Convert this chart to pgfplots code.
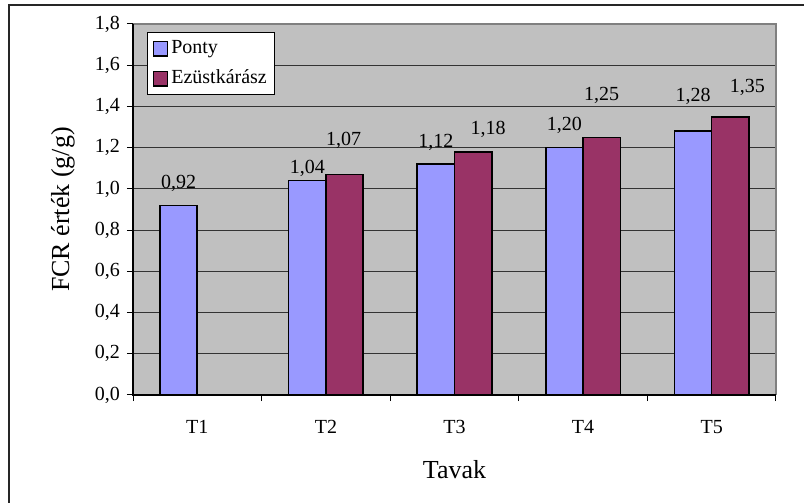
\documentclass[border=0pt]{standalone}
\usepackage{fontspec}
\setmainfont{Liberation Serif}
\usepackage{pgfplots}
\usepackage{pgfplotstable}
\pgfplotsset{compat=1.18}
\definecolor{ponty}{HTML}{9999FF}
\definecolor{ezust}{HTML}{993366}
\definecolor{plotbg}{HTML}{C0C0C0}
\definecolor{frame}{HTML}{808080}

% x = lake index, y = FCR, dx/dy = label offset (pt)
\pgfplotstableread{
x y dx dy
0 0.92 0 8.5
1 1.04 0 3.5
2 1.12 0 8.5
3 1.20 0 8.5
4 1.28 0 15
}\ponty
\pgfplotstableread{
x y dx dy
1 1.07 -0.5 14.5
2 1.18 7.5 8.5
3 1.25 0 18.5
4 1.35 8.5 12
}\ezust

\begin{document}
\begin{tikzpicture}
\useasboundingbox (0,0) rectangle (402pt,251.5pt);
\draw[black!85, line width=1pt] (4.5pt,0) -- (4.5pt,249pt) -- (403pt,249pt);
\begin{axis}[
    at={(66.5pt,54pt)}, anchor=south west,
    scale only axis,
    width=321.5pt, height=185.5pt,
    ybar=0pt,
    bar width=0.29,
    xmin=-0.5, xmax=4.5,
    ymin=0, ymax=1.8,
    xtick={0,1,2,3,4},
    xticklabels={T1,T2,T3,T4,T5},
    minor xtick={-0.5,0.5,1.5,2.5,3.5,4.5},
    ytick={0,0.2,...,1.8},
    xtick pos=bottom, ytick pos=left,
    tick align=outside,
    major x tick style={draw=none},
    minor tick length=3pt,
    major tick length=3pt,
    tick style={black, line width=0.5pt},
    axis line style={draw=none},
    axis background/.style={fill=plotbg},
    ymajorgrids,
    major grid style={black!80, line width=0.5pt},
    /pgf/number format/assume math mode=true,
    yticklabel={\pgfmathprintnumber[fixed,fixed zerofill,precision=1,use comma]{\tick}},
    tick label style={font=\fontsize{10}{12}\selectfont},
    xticklabel style={yshift=-6pt},
    ylabel={FCR érték (g/g)},
    xlabel={Tavak},
    label style={font=\fontsize{13}{15}\selectfont},
    ylabel style={at={(axis description cs:-0.109,0.5)}, anchor=center},
    xlabel style={at={(axis description cs:0.5,-0.202)}, anchor=center},
    nodes near coords={\pgfmathprintnumber[fixed,fixed zerofill,precision=2,use comma,assume math mode=true]{\pgfplotspointmeta}},
    visualization depends on={\thisrow{dx} \as \dx},
    visualization depends on={\thisrow{dy} \as \dy},
    nodes near coords style={anchor=base, font=\fontsize{10}{12}\selectfont, xshift=\dx pt, yshift=\dy pt, black},
    legend style={at={(0.0218,0.978)}, anchor=north west, draw=black, line width=0.5pt, fill=white,
        inner xsep=2.5pt, inner ysep=2pt, row sep=3pt, font=\fontsize{10}{12}\selectfont,
        nodes={inner sep=1.5pt, text height=7pt, text depth=2pt}},
    legend cell align=left,
    legend image code/.code={\draw[#1, draw=black, line width=0.7pt] (0pt,-3.6pt) rectangle (7.2pt,3.6pt);},
    after end axis/.code={
        \draw[frame, line width=0.7pt] (rel axis cs:0,1) -- (rel axis cs:1,1) -- (rel axis cs:1,0);
        \draw[black, line width=0.7pt] (rel axis cs:0,1) -- (rel axis cs:0,0) -- (rel axis cs:1,0);
    },
]
\addplot[fill=ponty, draw=black, line width=0.8pt] table[x=x, y=y] {\ponty};
\addplot[fill=ezust, draw=black, line width=0.8pt] table[x=x, y=y] {\ezust};
\legend{Ponty, Ezüstkárász}
\end{axis}
\end{tikzpicture}
\end{document}
